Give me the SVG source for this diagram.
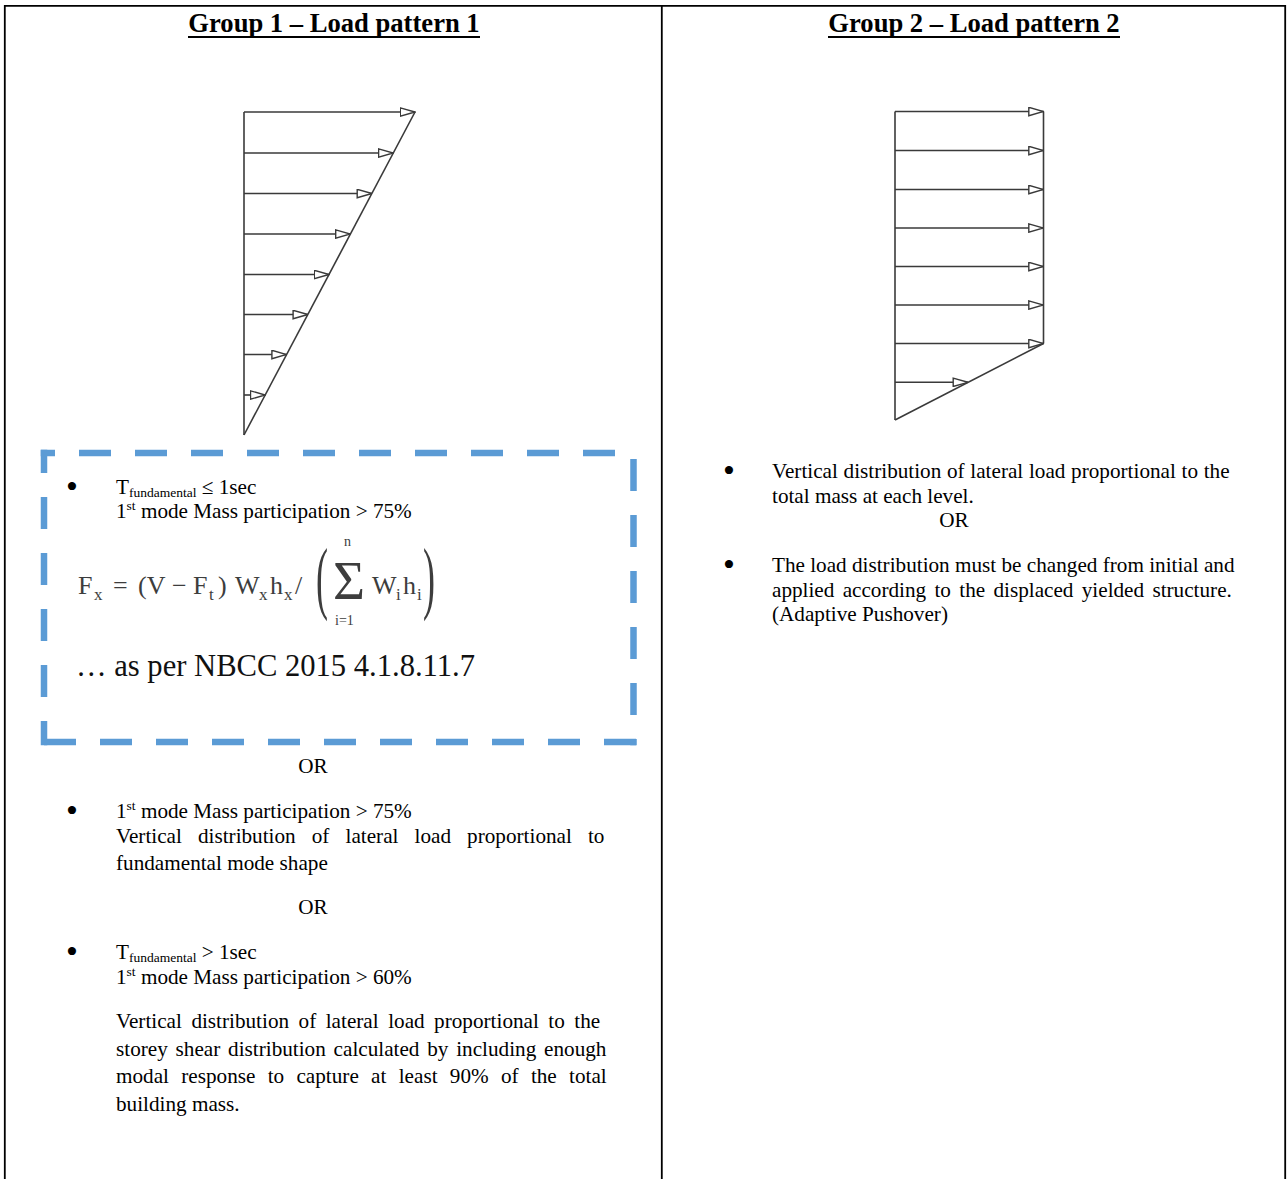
<svg xmlns="http://www.w3.org/2000/svg" width="1287" height="1179" viewBox="0 0 1287 1179">
<style>
.t{font-family:"Liberation Serif","Times New Roman",serif;font-size:21.2px;fill:#000}
.b{font-family:"Liberation Serif","Times New Roman",serif;font-size:34px;fill:#000}
.sm{font-size:13.5px}
.title{font-family:"Liberation Serif","Times New Roman",serif;font-size:26.6px;font-weight:bold;fill:#000;text-anchor:middle}
.or{text-anchor:middle}
.frame{stroke:#000;stroke-width:1.8;fill:none}
.ul{stroke:#000;stroke-width:1.8}
.ln{stroke:#3a3a3a;stroke-width:1.6;fill:none}
.arr{stroke:#3a3a3a;stroke-width:1.6;fill:none;marker-end:url(#tri)}
.dash{stroke:#5B9BD5;stroke-width:6.5;stroke-dasharray:32 24;fill:none}
.fm{font-family:"Liberation Serif","Times New Roman",serif;fill:#3d3d3d;font-size:26px}
.fs{font-size:17px}
</style>
<defs>
<marker id="tri" viewBox="0 0 16 10" refX="15.5" refY="5" markerWidth="16" markerHeight="10" markerUnits="userSpaceOnUse" orient="auto">
<path d="M0.8,0.8 L15.5,5 L0.8,9.2 Z" fill="#fff" stroke="#3a3a3a" stroke-width="1.4"/>
</marker>
</defs>
<rect width="1287" height="1179" fill="#fff"/>

<g id="frame">
<line class="frame" x1="4" y1="5.8" x2="1286" y2="5.8"/>
<line class="frame" x1="4.8" y1="5" x2="4.8" y2="1179"/>
<line class="frame" x1="661.8" y1="5" x2="661.8" y2="1179"/>
<line class="frame" x1="1285.2" y1="5" x2="1285.2" y2="1179"/>
</g>

<g id="title-group1">
<text class="title" x="334" y="32">Group 1 – Load pattern 1</text>
<line class="ul" x1="188" y1="37" x2="480" y2="37"/>
</g>
<g id="title-group2">
<text class="title" x="974" y="32">Group 2 – Load pattern 2</text>
<line class="ul" x1="828" y1="37" x2="1120" y2="37"/>
</g>

<g id="diagram1">
<g id="diagram1-outline">
<line class="ln" x1="244" y1="112" x2="244" y2="435"/>
<line class="ln" x1="244" y1="435" x2="415" y2="112"/>
</g>
<g id="diagram1-arrows">
<line class="arr" x1="244" y1="112" x2="415" y2="112"/>
<line class="arr" x1="244" y1="153" x2="393.3" y2="153"/>
<line class="arr" x1="244" y1="193.5" x2="371.9" y2="193.5"/>
<line class="arr" x1="244" y1="234" x2="350.4" y2="234"/>
<line class="arr" x1="244" y1="274.5" x2="329" y2="274.5"/>
<line class="arr" x1="244" y1="314.5" x2="307.8" y2="314.5"/>
<line class="arr" x1="244" y1="354.5" x2="286.6" y2="354.5"/>
<line class="arr" x1="244" y1="395" x2="265.2" y2="395"/>
</g>
</g>

<g id="diagram2">
<g id="diagram2-outline">
<line class="ln" x1="895" y1="111.5" x2="895" y2="420"/>
<line class="ln" x1="1043.5" y1="111.5" x2="1043.5" y2="343.5"/>
<line class="ln" x1="1043.5" y1="343.5" x2="895" y2="420"/>
</g>
<g id="diagram2-arrows">
<line class="arr" x1="895" y1="111.5" x2="1043.5" y2="111.5"/>
<line class="arr" x1="895" y1="150.5" x2="1043.5" y2="150.5"/>
<line class="arr" x1="895" y1="189.5" x2="1043.5" y2="189.5"/>
<line class="arr" x1="895" y1="228" x2="1043.5" y2="228"/>
<line class="arr" x1="895" y1="266.5" x2="1043.5" y2="266.5"/>
<line class="arr" x1="895" y1="305" x2="1043.5" y2="305"/>
<line class="arr" x1="895" y1="343.5" x2="1043.5" y2="343.5"/>
<line class="arr" x1="895" y1="382.3" x2="967.9" y2="382.3"/>
</g>
</g>

<g id="dashed-box">
<line class="dash" x1="40.75" y1="453" x2="636.75" y2="453" stroke-dashoffset="17.75"/>
<line class="dash" x1="633.5" y1="449.75" x2="633.5" y2="745.25" stroke-dashoffset="-9.25"/>
<line class="dash" x1="44" y1="449.75" x2="44" y2="745.25" stroke-dashoffset="8.75"/>
<line class="dash" x1="40.75" y1="742" x2="636.75" y2="742" stroke-dashoffset="-3.25"/>
</g>

<g id="box-text">
<text class="b" x="66" y="498">•</text>
<text class="t" x="116" y="494">T<tspan class="sm" dy="3">fundamental</tspan><tspan dy="-3"> ≤ 1sec</tspan></text>
<text class="t" x="116" y="518">1<tspan class="sm" dy="-8">st</tspan><tspan dy="8"> mode Mass participation &gt; 75%</tspan></text>
</g>

<g id="formula">
<text class="fm" x="78" y="594">F</text>
<text class="fm fs" x="94" y="600">x</text>
<text class="fm" x="113" y="594">=</text>
<text class="fm" x="138" y="594">(V</text>
<text class="fm" x="172" y="594">−</text>
<text class="fm" x="193" y="594">F</text>
<text class="fm fs" x="209" y="600">t</text>
<text class="fm" x="218" y="594">)</text>
<text class="fm" x="235" y="594">W</text>
<text class="fm fs" x="259" y="600">x</text>
<text class="fm" x="270" y="594">h</text>
<text class="fm fs" x="284" y="600">x</text>
<text class="fm" x="295" y="594">/</text>
<text class="fm" transform="translate(316,604) scale(1.2,2.7)" style="font-size:30px">(</text>
<text class="fm" transform="translate(333,599) scale(1,1.25)" style="font-size:44px" textLength="32" lengthAdjust="spacingAndGlyphs">Σ</text>
<text class="fm" x="344" y="546" style="font-size:14px">n</text>
<text class="fm" x="335" y="625" style="font-size:14px">i=1</text>
<text class="fm" x="372" y="594">W</text>
<text class="fm fs" x="396" y="600">i</text>
<text class="fm" x="403" y="594">h</text>
<text class="fm fs" x="417" y="600">i</text>
<text class="fm" transform="translate(423,604) scale(1.2,2.7)" style="font-size:30px">)</text>
</g>

<g id="nbcc-ref">
<text class="t" x="76" y="676" style="font-size:32px;fill:#111" textLength="399" lengthAdjust="spacingAndGlyphs">… as per NBCC 2015 4.1.8.11.7</text>
</g>

<g id="left-text">
<text class="t or" x="313" y="773">OR</text>
<text class="b" x="66" y="822">•</text>
<text class="t" x="116" y="818">1<tspan class="sm" dy="-8">st</tspan><tspan dy="8"> mode Mass participation &gt; 75%</tspan></text>
<text class="t" x="116" y="843" word-spacing="10.8">Vertical distribution of lateral load proportional to</text>
<text class="t" x="116" y="870">fundamental mode shape</text>
<text class="t or" x="313" y="914">OR</text>
<text class="b" x="66" y="963">•</text>
<text class="t" x="116" y="959">T<tspan class="sm" dy="3">fundamental</tspan><tspan dy="-3"> &gt; 1sec</tspan></text>
<text class="t" x="116" y="984">1<tspan class="sm" dy="-8">st</tspan><tspan dy="8"> mode Mass participation &gt; 60%</tspan></text>
<text class="t" x="116" y="1028" word-spacing="4.2">Vertical distribution of lateral load proportional to the</text>
<text class="t" x="116" y="1056" word-spacing="2.5">storey shear distribution calculated by including enough</text>
<text class="t" x="116" y="1083" word-spacing="7">modal response to capture at least 90% of the total</text>
<text class="t" x="116" y="1111">building mass.</text>
</g>

<g id="right-text">
<text class="b" x="723" y="482">•</text>
<text class="t" x="772" y="478" word-spacing="0.4">Vertical distribution of lateral load proportional to the</text>
<text class="t" x="772" y="503">total mass at each level.</text>
<text class="t or" x="954" y="527">OR</text>
<text class="b" x="723" y="576">•</text>
<text class="t" x="772" y="572">The load distribution must be changed from initial and</text>
<text class="t" x="772" y="597" word-spacing="3">applied according to the displaced yielded structure.</text>
<text class="t" x="772" y="621">(Adaptive Pushover)</text>
</g>
</svg>
